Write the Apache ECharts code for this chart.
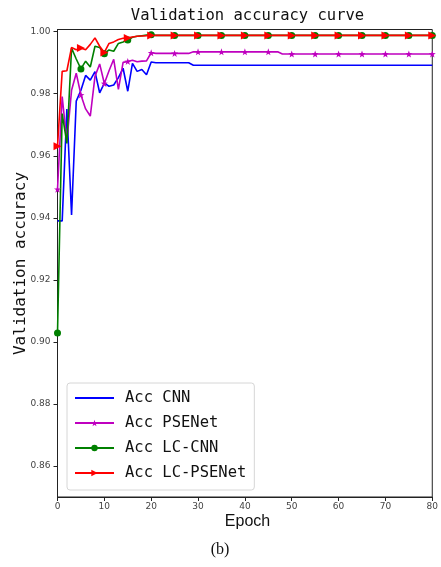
<!DOCTYPE html>
<html>
<head>
<meta charset="utf-8">
<script src="https://cdn.jsdelivr.net/npm/echarts@6/dist/echarts.min.js"></script>
<style>
  html, body { margin: 0; padding: 0; background: #fff; }
  #chart { width: 441px; height: 567px; }
</style>
</head>
<body>
<div id="chart"></div>
<script>
// Validation accuracy per epoch (epochs 0..80)
const epochs = [0,1,2,3,4,5,6,7,8,9,10,11,12,13,14,15,16,17,18,19,20,
  21,22,23,24,25,26,27,28,29,30,31,32,33,34,35,36,37,38,39,40,
  41,42,43,44,45,46,47,48,49,50,51,52,53,54,55,56,57,58,59,60,
  61,62,63,64,65,66,67,68,69,70,71,72,73,74,75,76,77,78,79,80];

const accCNN = [0.9390,0.9390,0.9751,0.9409,0.9776,0.9811,0.9859,0.9844,0.9871,0.9803,0.9834,
  0.9824,0.9828,0.9852,0.9882,0.9808,0.9898,0.9872,0.9878,0.9861,0.9902,
  0.9900,0.9900,0.9900,0.9900,0.9900,0.9900,0.9900,0.9900,0.9892,0.9892,
  0.9892,0.9892,0.9892,0.9892,0.9892,0.9892,0.9892,0.9892,0.9892,0.9892,
  0.9892,0.9892,0.9892,0.9892,0.9892,0.9892,0.9892,0.9892,0.9892,0.9892,
  0.9892,0.9892,0.9892,0.9892,0.9892,0.9892,0.9892,0.9892,0.9892,0.9892,
  0.9892,0.9892,0.9892,0.9892,0.9892,0.9892,0.9892,0.9892,0.9892,0.9892,
  0.9892,0.9892,0.9892,0.9892,0.9892,0.9892,0.9892,0.9892,0.9892,0.9892];

const accPSENet = [0.9492,0.9791,0.9645,0.9811,0.9866,0.9796,0.9751,0.9728,0.9856,0.9896,0.9833,
  0.9874,0.9911,0.9814,0.9901,0.9904,0.9908,0.9903,0.9905,0.9906,0.9932,
  0.9930,0.9930,0.9930,0.9930,0.9930,0.9930,0.9930,0.9930,0.9935,0.9935,
  0.9935,0.9935,0.9935,0.9935,0.9935,0.9935,0.9935,0.9935,0.9935,0.9935,
  0.9935,0.9935,0.9935,0.9935,0.9935,0.9935,0.9935,0.9928,0.9928,0.9928,
  0.9928,0.9928,0.9928,0.9928,0.9928,0.9928,0.9928,0.9928,0.9928,0.9928,
  0.9928,0.9928,0.9928,0.9928,0.9928,0.9928,0.9928,0.9928,0.9928,0.9928,
  0.9928,0.9928,0.9928,0.9928,0.9928,0.9928,0.9928,0.9928,0.9928,0.9928];

const accLCCNN = [0.9029,0.9736,0.9640,0.9947,0.9912,0.9880,0.9905,0.9886,0.9953,0.9949,0.9929,
  0.9941,0.9937,0.9962,0.9967,0.9973,0.9982,0.9985,0.9987,0.9989,0.9990,
  0.9988,0.9988,0.9988,0.9988,0.9988,0.9988,0.9988,0.9988,0.9988,0.9988,
  0.9988,0.9988,0.9988,0.9988,0.9988,0.9988,0.9988,0.9988,0.9988,0.9988,
  0.9988,0.9988,0.9988,0.9988,0.9988,0.9988,0.9988,0.9988,0.9988,0.9988,
  0.9988,0.9988,0.9988,0.9988,0.9988,0.9988,0.9988,0.9988,0.9988,0.9988,
  0.9988,0.9988,0.9988,0.9988,0.9988,0.9988,0.9988,0.9988,0.9988,0.9988,
  0.9988,0.9988,0.9988,0.9988,0.9988,0.9988,0.9988,0.9988,0.9988,0.9988];

const accLCPSENet = [0.9631,0.9872,0.9874,0.9949,0.9942,0.9947,0.9942,0.9959,0.9980,0.9953,0.9933,
  0.9962,0.9967,0.9975,0.9979,0.9980,0.9983,0.9985,0.9986,0.9987,0.9988,
  0.9988,0.9988,0.9988,0.9988,0.9988,0.9988,0.9988,0.9988,0.9988,0.9988,
  0.9988,0.9988,0.9988,0.9988,0.9988,0.9988,0.9988,0.9988,0.9988,0.9988,
  0.9988,0.9988,0.9988,0.9988,0.9988,0.9988,0.9988,0.9988,0.9988,0.9988,
  0.9988,0.9988,0.9988,0.9988,0.9988,0.9988,0.9988,0.9988,0.9988,0.9988,
  0.9988,0.9988,0.9988,0.9988,0.9988,0.9988,0.9988,0.9988,0.9988,0.9988,
  0.9988,0.9988,0.9988,0.9988,0.9988,0.9988,0.9988,0.9988,0.9988,0.9988];

const yTicks = [0.86, 0.88, 0.90, 0.92, 0.94, 0.96, 0.98, 1.00];
const seriesNames = ['Acc CNN', 'Acc PSENet', 'Acc LC-CNN', 'Acc LC-PSENet'];

const MONO = '"DejaVu Sans Mono", "Liberation Mono", monospace';
const STAR = 'path://M0,-10L2.35,-3.24L9.51,-3.09L3.8,1.24L5.88,8.09L0,4L-5.88,8.09L-3.8,1.24L-9.51,-3.09L-2.35,-3.24Z';
const MARK_EVERY = 5;

// pairs [epoch, acc]; only every fifth point carries a marker
function points(values, marked) {
  return epochs.map((e, i) => {
    const item = { value: [e, values[i]] };
    if (!marked || i % MARK_EVERY !== 0) item.symbol = 'none';
    return item;
  });
}

function lineSeries(name, values, color, symbol, size, rotate) {
  return {
    name: name,
    type: 'line',
    data: points(values, symbol !== 'none'),
    symbol: symbol,
    symbolSize: size,
    symbolRotate: rotate || 0,
    showSymbol: true,
    showAllSymbol: true,
    clip: true,
    lineStyle: { color: color, width: 1.6 },
    itemStyle: { color: color, borderWidth: 0 },
    emphasis: { disabled: true }
  };
}

const chart = echarts.init(document.getElementById('chart'), null, { renderer: 'canvas' });
chart.setOption({
  animation: false,
  backgroundColor: '#fff',
  grid: {
    left: 57.5, right: 4, top: 29.5, bottom: 70,
    show: true, borderColor: '#222', borderWidth: 1, backgroundColor: 'transparent'
  },
  xAxis: {
    type: 'value', min: 0, max: 80, interval: 10,
    axisLine: { show: true, lineStyle: { color: '#222', width: 1 } },
    axisTick: { show: true, length: 4, lineStyle: { color: '#222' } },
    axisLabel: { color: '#444', fontSize: 9, fontFamily: '"DejaVu Sans", sans-serif', margin: 5, showMaxLabel: true },
    splitLine: { show: false }
  },
  yAxis: {
    type: 'value', min: 0.85, max: 1.0007,
    axisLine: { show: true, lineStyle: { color: '#222', width: 1 } },
    axisTick: { show: true, length: 4, lineStyle: { color: '#222' }, customValues: yTicks },
    axisLabel: {
      color: '#444', fontSize: 9, fontFamily: '"DejaVu Sans", sans-serif', margin: 7,
      customValues: yTicks,
      formatter: v => v.toFixed(2)
    },
    splitLine: { show: false }
  },
  legend: {
    orient: 'vertical',
    left: 67, top: 383,
    data: [
      { name: seriesNames[0], itemStyle: { opacity: 0 } },
      { name: seriesNames[1] },
      { name: seriesNames[2] },
      { name: seriesNames[3] }
    ],
    itemWidth: 39, itemHeight: 8, itemGap: 9,
    padding: [7, 8, 9, 7],
    backgroundColor: 'rgba(255,255,255,0.85)',
    borderColor: '#d6d6d6', borderWidth: 1, borderRadius: 3,
    textStyle: { fontFamily: MONO, fontSize: 15.5, color: '#111', padding: [0, 0, 0, 6] },
    selectedMode: false
  },
  graphic: [
    { type: 'text', x: 247.5, y: 16,
      style: { text: 'Validation accuracy curve', font: '15.5px ' + MONO, fill: '#111', align: 'center', verticalAlign: 'middle' } },
    { type: 'text', x: 21, y: 263.5, rotation: Math.PI / 2,
      style: { text: 'Validation accuracy', font: '16px ' + MONO, fill: '#111', align: 'center', verticalAlign: 'middle' } },
    { type: 'text', x: 247.5, y: 522,
      style: { text: 'Epoch', font: '16px "Liberation Sans", Arial, sans-serif', fill: '#111', align: 'center', verticalAlign: 'middle' } },
    { type: 'text', x: 220, y: 550,
      style: { text: '(b)', font: '16px "Liberation Serif", "Times New Roman", serif', fill: '#111', align: 'center', verticalAlign: 'middle' } }
  ],
  series: [
    lineSeries(seriesNames[0], accCNN, '#0000ff', 'none', 0),
    lineSeries(seriesNames[1], accPSENet, '#bf00bf', STAR, 7),
    lineSeries(seriesNames[2], accLCCNN, '#008000', 'circle', 7),
    lineSeries(seriesNames[3], accLCPSENet, '#ff0000', 'triangle', 8, -90)
  ]
});
</script>
</body>
</html>
